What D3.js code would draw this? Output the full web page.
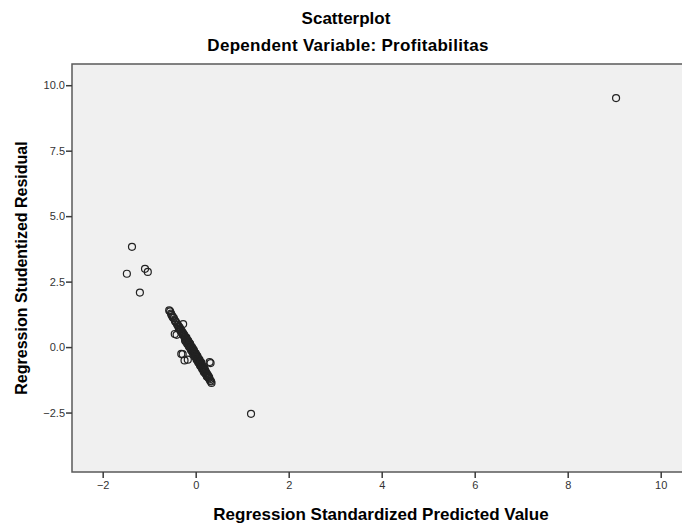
<!DOCTYPE html>
<html>
<head>
<meta charset="utf-8">
<script src="https://cdn.jsdelivr.net/npm/d3@7"></script>
<style>
    body { margin: 0; background: white; }
    svg { display: block; font-family: "Liberation Sans", Arial, sans-serif; }
</style>
</head>
<body>
<div id="chart"></div>
<script>
// Regression Standardized Predicted Value (x) and Studentized Residual (y)
const predicted = [
    9.04, -1.37, -1.48, -1.09, -1.03, -1.20, 1.19,
    -0.57, -0.55, -0.53, -0.52, -0.50, -0.49, -0.47, -0.45, -0.44, -0.42,
    -0.45, -0.41, -0.27, -0.28, -0.17, 0.32, 0.29, -0.24, -0.31, 0.30,
    -0.40, -0.38, -0.37, -0.36, -0.35, -0.34, -0.33, -0.32, -0.31, -0.30,
    -0.29, -0.28, -0.27, -0.26, -0.25, -0.24, -0.23, -0.22, -0.21, -0.20,
    -0.19, -0.18, -0.17, -0.16, -0.15, -0.14, -0.13, -0.12, -0.11, -0.10,
    -0.09, -0.08, -0.07, -0.06, -0.05, -0.04, -0.03, -0.02, -0.01, 0.00,
    0.01, 0.02, 0.03, 0.04, 0.05, 0.06, 0.07, 0.08, 0.09, 0.10,
    0.11, 0.12, 0.13, 0.14, 0.15, 0.16, 0.17, 0.18, 0.19, 0.20,
    0.21, 0.22, 0.23, 0.24, 0.25, 0.26, 0.27, 0.28, 0.30, 0.31, 0.33, 0.34,
    -0.22, -0.18, -0.14, -0.10, -0.06, -0.02, 0.02, 0.06, 0.10, 0.14, 0.18,
    -0.20, -0.16, -0.12, -0.08, -0.04, 0.00, 0.04, 0.08, 0.12,
    -0.23, -0.19, -0.15, -0.11, -0.07, -0.03, 0.01, 0.05, 0.09, 0.13, 0.17, 0.21, 0.24,
    -0.26, -0.13, -0.05, 0.03, 0.11, 0.19
];
const residual = [
    9.51, 3.83, 2.80, 2.99, 2.87, 2.08, -2.55,
    1.40, 1.36, 1.28, 1.23, 1.17, 1.13, 1.11, 1.02, 0.98, 0.94,
    0.50, 0.47, 0.88, -0.27, -0.48, -0.61, -1.16, -0.51, -0.26, -0.57,
    0.86, 0.84, 0.77, 0.70, 0.76, 0.66, 0.70, 0.60, 0.63, 0.55,
    0.58, 0.49, 0.52, 0.44, 0.47, 0.38, 0.41, 0.32, 0.35, 0.26,
    0.30, 0.20, 0.24, 0.13, 0.18, 0.08, 0.11, 0.02, 0.06, -0.04,
    -0.01, -0.10, -0.07, -0.16, -0.13, -0.22, -0.19, -0.28, -0.25, -0.35,
    -0.31, -0.40, -0.37, -0.47, -0.43, -0.53, -0.49, -0.59, -0.55, -0.65,
    -0.61, -0.71, -0.68, -0.77, -0.74, -0.83, -0.80, -0.90, -0.86, -0.95,
    -0.92, -1.01, -0.98, -1.08, -1.04, -1.13, -1.10, -1.19, -1.23, -1.29, -1.31, -1.37,
    0.22, 0.12, 0.00, -0.12, -0.24, -0.36, -0.48, -0.60, -0.72, -0.84, -0.96,
    0.36, 0.24, 0.12, 0.00, -0.12, -0.24, -0.36, -0.48, -0.60,
    0.27, 0.17, 0.05, -0.05, -0.19, -0.30, -0.41, -0.55, -0.67, -0.78, -0.92, -1.02, -1.12,
    0.50, 0.13, -0.09, -0.33, -0.57, -0.81
];
const xTicks = [-2, 0, 2, 4, 6, 8, 10];
const yTicks = [-2.5, 0.0, 2.5, 5.0, 7.5, 10.0];

const w = 682, h = 525;
const plotLeft = 72, plotTop = 64, plotRight = 690, plotBottom = 472;

const svg = d3.select("#chart").append("svg")
    .attr("width", w)
    .attr("height", h);

const xScale = d3.scaleLinear()
    .domain([-2.66, 10.63])
    .range([plotLeft, plotRight]);

const yScale = d3.scaleLinear()
    .domain([-4.77, 10.81])
    .range([plotBottom, plotTop]);

// plot background
svg.append("rect")
    .attr("x", plotLeft)
    .attr("y", plotTop)
    .attr("width", plotRight - plotLeft)
    .attr("height", plotBottom - plotTop)
    .attr("fill", "#f0f0f0")
    .attr("stroke", "#5a5a5a")
    .attr("stroke-width", 1.5);

// points
svg.append("g")
    .selectAll("circle")
    .data(predicted.map(function(d, i) { return {x: d, y: residual[i]}; }))
    .enter()
    .append("circle")
    .attr("cx", function(d) { return xScale(d.x); })
    .attr("cy", function(d) { return yScale(d.y); })
    .attr("r", 3.5)
    .attr("fill", "none")
    .attr("stroke", "#222")
    .attr("stroke-width", 1.2);

// x axis
const xAxis = svg.append("g")
    .attr("transform", "translate(0," + plotBottom + ")")
    .call(d3.axisBottom(xScale).tickValues(xTicks).tickSize(6).tickPadding(3).tickFormat(d3.format("d")));

// y axis
const yAxis = svg.append("g")
    .attr("transform", "translate(" + plotLeft + ",0)")
    .call(d3.axisLeft(yScale).tickValues(yTicks).tickSize(6).tickPadding(1).tickFormat(d3.format(".1f")));

[xAxis, yAxis].forEach(function(a) {
    a.select(".domain").remove();
    a.selectAll(".tick line").attr("stroke", "#3a3a3a").attr("stroke-width", 1.5);
    a.selectAll(".tick text")
        .attr("fill", "#333")
        .style("font-size", "11px")
        .style("font-family", "'Liberation Sans', Arial, sans-serif");
});

// titles
svg.append("text")
    .attr("text-anchor", "middle")
    .attr("x", 346)
    .attr("y", 24)
    .style("font-weight", "bold")
    .style("font-size", "17px")
    .text("Scatterplot");

svg.append("text")
    .attr("text-anchor", "middle")
    .attr("x", 348)
    .attr("y", 51)
    .style("font-weight", "bold")
    .style("font-size", "17px")
    .style("letter-spacing", "0.3px")
    .text("Dependent Variable: Profitabilitas");

// axis labels
svg.append("text")
    .attr("text-anchor", "middle")
    .attr("x", 381)
    .attr("y", 520)
    .style("font-weight", "bold")
    .style("font-size", "17px")
    .text("Regression Standardized Predicted Value");

svg.append("text")
    .attr("text-anchor", "middle")
    .attr("transform", "rotate(-90)")
    .attr("x", -(plotTop + plotBottom) / 2)
    .attr("y", 27)
    .style("font-weight", "bold")
    .style("font-size", "16px")
    .text("Regression Studentized Residual");
</script>
</body>
</html>
